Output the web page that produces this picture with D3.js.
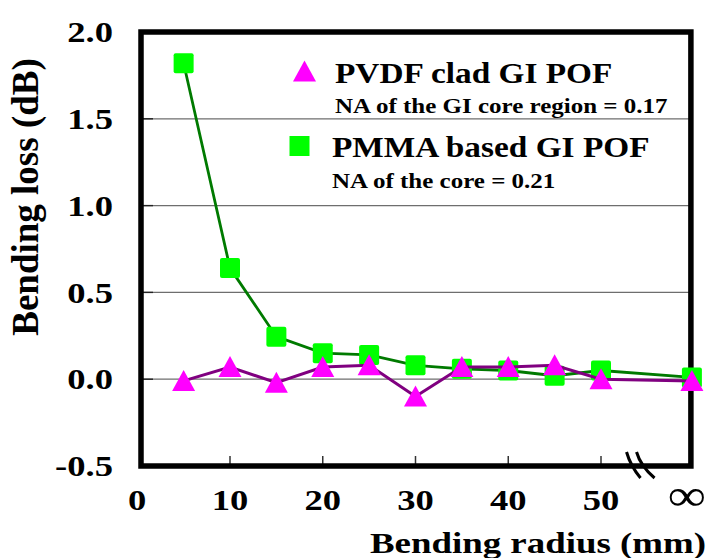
<!DOCTYPE html>
<html lang="en">
<head>
<meta charset="UTF-8">
<title>Bending loss vs bending radius</title>
<script src="https://d3js.org/d3.v7.min.js"></script>
<style>
  body { margin: 0; background: #fff; }
  svg { display: block; font-family: "Liberation Serif", "Times New Roman", serif; font-weight: bold; }
</style>
</head>
<body>
<div id="chart"></div>
<script>
// data
const radius = [5, 10, 15, 20, 25, 30, 35, 40, 45, 50, Infinity];
const pvdfLoss = [-0.01, 0.07, -0.02, 0.07, 0.08, -0.10, 0.07, 0.07, 0.08, 0.00, -0.01];
const pmmaLoss = [1.82, 0.64, 0.245, 0.15, 0.14, 0.08, 0.06, 0.05, 0.02, 0.05, 0.01];
const xTicks = [0, 10, 20, 30, 40, 50];
const yTicks = [-0.5, 0.0, 0.5, 1.0, 1.5, 2.0];
const yGrid = [0.0, 0.5, 1.0, 1.5];
const infPos = 59.8; // position of "∞" on the broken axis

const width = 712, height = 558;
const svg = d3.select("#chart").append("svg")
    .attr("width", width)
    .attr("height", height);

const x = d3.scaleLinear().domain([0, 50]).range([137.25, 601]);
const y = d3.scaleLinear().domain([-0.5, 2.0]).range([466, 32]);
const px = r => x(r === Infinity ? infPos : r);

const left = 141, right = x(infPos) - 1;

// gridlines
svg.selectAll(".grid")
    .data(yGrid)
    .enter().append("line")
    .attr("x1", left).attr("x2", right)
    .attr("y1", d => y(d)).attr("y2", d => y(d))
    .attr("stroke", "#6e6e6e")
    .attr("stroke-width", 1.3);

// short inward ticks on y
svg.selectAll(".ytick")
    .data(yGrid)
    .enter().append("line")
    .attr("x1", left).attr("x2", left + 12)
    .attr("y1", d => y(d)).attr("y2", d => y(d))
    .attr("stroke", "#222")
    .attr("stroke-width", 1.4);

// inward ticks on x
svg.selectAll(".xtick")
    .data(xTicks.slice(1))
    .enter().append("line")
    .attr("x1", d => x(d)).attr("x2", d => x(d))
    .attr("y1", y(-0.5)).attr("y2", y(-0.5) - 10)
    .attr("stroke", "#333")
    .attr("stroke-width", 1.5);

// frame
svg.append("rect")
    .attr("x", left).attr("y", y(2.0))
    .attr("width", right - left).attr("height", y(-0.5) - y(2.0))
    .attr("fill", "none")
    .attr("stroke", "#000")
    .attr("stroke-width", 5.5);

// axis break marks
const bx = x(53.4);
[0, 10].forEach(off => {
    svg.append("path")
        .attr("d", `M${bx - 6 + off},${y(-0.5) - 14} Q${bx - 2 + off},${y(-0.5)} ${bx + 8 + off * 1.4},${y(-0.5) + 12}`)
        .attr("fill", "none")
        .attr("stroke", "#000")
        .attr("stroke-width", 3);
});

// y tick labels
svg.selectAll(".ylab")
    .data(yTicks)
    .enter().append("text")
    .attr("transform", d => `translate(113,${y(d)}) scale(1.22,1)`)
    .attr("dy", "0.34em")
    .attr("text-anchor", "end")
    .style("font-size", "30px")
    .text(d => d.toFixed(1));

// x tick labels
svg.selectAll(".xlab")
    .data(xTicks)
    .enter().append("text")
    .attr("transform", d => `translate(${x(d)},510) scale(1.22,1)`)
    .attr("text-anchor", "middle")
    .style("font-size", "30px")
    .text(d => String(d));

svg.append("text")
    .attr("transform", `translate(${px(Infinity) - 5},510) scale(1.22,1)`)
    .attr("text-anchor", "middle")
    .style("font-size", "44px")
    .style("font-weight", "normal")
    .text("∞");

// axis titles
svg.append("text")
    .attr("transform", "translate(706,553) scale(1.23,1)")
    .attr("text-anchor", "end")
    .style("font-size", "30px")
    .text("Bending radius (mm)");

svg.append("text")
    .attr("transform", "translate(38,197) rotate(-90)")
    .attr("text-anchor", "middle")
    .style("font-size", "37px")
    .text("Bending loss (dB)");

// series
const line = d3.line().x((d, i) => px(radius[i])).y(d => y(d));
const triangle = "M0,-11 L11.5,10 L-11.5,10 Z";

svg.append("path")
    .datum(pmmaLoss)
    .attr("d", line)
    .attr("fill", "none")
    .attr("stroke", "#007a00")
    .attr("stroke-width", 2.8);

svg.selectAll(".sq")
    .data(pmmaLoss)
    .enter().append("rect")
    .attr("x", (d, i) => px(radius[i]) - 10)
    .attr("y", d => y(d) - 10)
    .attr("width", 20).attr("height", 20)
    .attr("rx", 2)
    .attr("fill", "#00ff00");

svg.append("path")
    .datum(pvdfLoss)
    .attr("d", line)
    .attr("fill", "none")
    .attr("stroke", "#800080")
    .attr("stroke-width", 3);

svg.selectAll(".tri")
    .data(pvdfLoss)
    .enter().append("path")
    .attr("d", triangle)
    .attr("transform", (d, i) => `translate(${px(radius[i])},${y(d)})`)
    .attr("fill", "#ff00ff");

// legend
svg.append("path")
    .attr("d", triangle)
    .attr("transform", "translate(304.5,71.5)")
    .attr("fill", "#ff00ff");
svg.append("rect")
    .attr("x", 289.5).attr("y", 136)
    .attr("width", 20).attr("height", 20)
    .attr("fill", "#00ff00");

const legendText = [
    { t: "PVDF clad GI POF", x: 335, y: 83, s: 28.5, k: 1.17 },
    { t: "NA of the GI core region = 0.17", x: 335, y: 113, s: 21, k: 1.19 },
    { t: "PMMA based GI POF", x: 332, y: 157, s: 28.5, k: 1.17 },
    { t: "NA of the core = 0.21", x: 332, y: 188, s: 21, k: 1.19 }
];
svg.selectAll(".leg")
    .data(legendText)
    .enter().append("text")
    .attr("transform", d => `translate(${d.x},${d.y}) scale(${d.k},1)`)
    .style("font-size", d => d.s + "px")
    .text(d => d.t);
</script>
</body>
</html>
